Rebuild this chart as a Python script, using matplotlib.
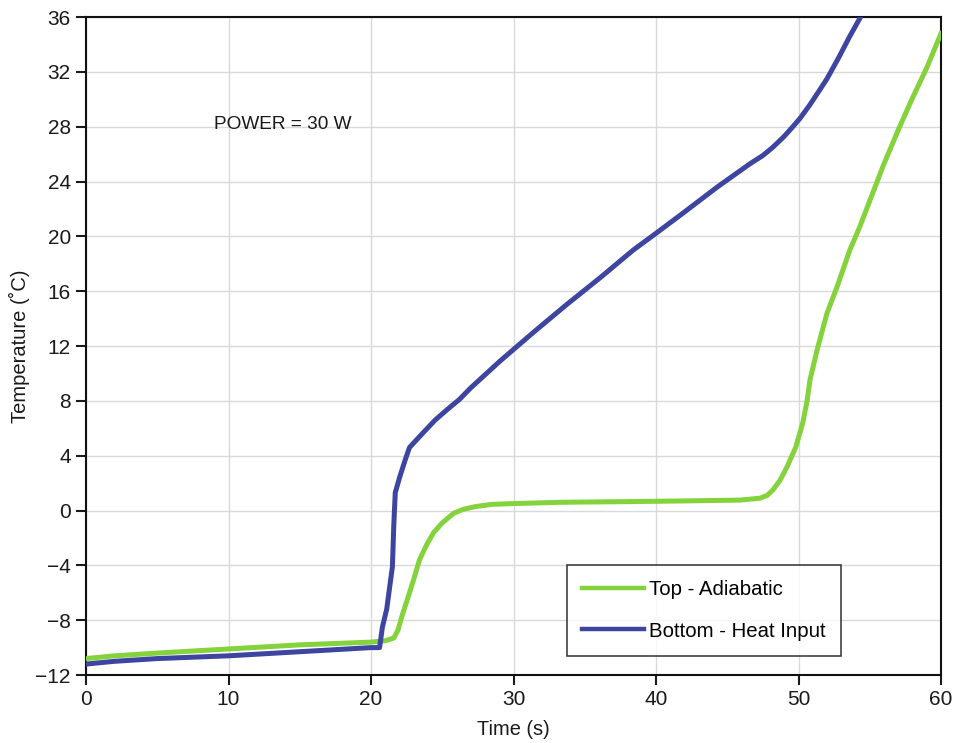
import matplotlib.pyplot as plt
import numpy as np

plt.rcParams['font.family'] = ['Liberation Sans', 'DejaVu Sans']

# Top - Adiabatic (green)
top_t = [0, 2, 5, 10, 15, 20, 21.0, 21.6, 21.9, 22.2, 22.7, 23.0, 23.4, 23.9,
         24.4, 25.0, 25.8, 26.5, 27.4, 28.5, 29.8, 33.3, 38, 42, 45.9, 47.3,
         47.8, 48.2, 48.7, 49.2, 49.8, 50.3, 50.6, 50.8, 51.3, 52.0, 52.7,
         53.6, 54.3, 55.0, 56.0, 57.1, 58.0, 59.0, 60.0]
top_T = [-10.8, -10.6, -10.4, -10.1, -9.8, -9.6, -9.5, -9.3, -8.7, -7.6, -6.0,
         -5.0, -3.6, -2.5, -1.6, -0.9, -0.2, 0.1, 0.3, 0.45, 0.5, 0.6, 0.65,
         0.7, 0.76, 0.9, 1.1, 1.5, 2.2, 3.2, 4.6, 6.4, 8.0, 9.5, 11.7, 14.4,
         16.3, 19.0, 20.7, 22.6, 25.3, 28.0, 30.1, 32.3, 34.8]

# Bottom - Heat Input (blue)
bot_t = [0, 2, 5, 10, 15, 20, 20.6, 20.8, 21.1, 21.5, 21.6, 21.7, 22.0, 22.4,
         22.7, 23.5, 24.5, 25.5, 26.2, 27.0, 28.0, 29.05, 30.0, 31.4, 33.7,
         36.1, 38.4, 40.1, 41.9, 44.3, 46.6, 47.5, 48.2, 49.0, 49.6, 50.1,
         50.8, 51.5, 52.0, 52.8, 53.6, 54.3]
bot_T = [-11.2, -11.0, -10.8, -10.6, -10.3, -10.0, -10.0, -8.5, -7.2, -4.1,
         -1.0, 1.3, 2.4, 3.7, 4.6, 5.5, 6.6, 7.5, 8.1, 8.95, 9.9, 10.9, 11.75,
         13.0, 15.0, 17.0, 19.0, 20.3, 21.7, 23.6, 25.3, 25.9, 26.5, 27.3,
         28.0, 28.6, 29.6, 30.7, 31.5, 33.0, 34.6, 35.9]

green = '#84d23c'
blue = '#3d45a0'

fig = plt.figure(figsize=(9.57, 7.43), dpi=100)
ax = fig.add_axes([0.0899, 0.0915, 0.8934, 0.8856])

ax.plot(top_t, top_T, color=green, lw=3.6, label='Top - Adiabatic', zorder=3)
ax.plot(bot_t, bot_T, color=blue, lw=3.6, label='Bottom - Heat Input', zorder=4)

ax.set_xlim(0, 60)
ax.set_ylim(-12, 36)
ax.set_xticks(np.arange(0, 61, 10))
ax.set_yticks(np.arange(-12, 37, 4))
ax.set_yticklabels([str(v).replace('-', '\u2212') for v in range(-12, 37, 4)])
ax.grid(True, color='#d9d9d9', lw=1)
ax.set_axisbelow(True)

for s in ax.spines.values():
    s.set_linewidth(1.5)
    s.set_color('#111111')

ax.tick_params(direction='out', length=7, width=1.5, labelsize=15,
               colors='#1a1a1a', top=False, right=False, pad=4)

ax.set_xlabel('Time (s)', fontsize=14.4, color='#1a1a1a', labelpad=8)
ax.set_ylabel('Temperature (\u02daC)', fontsize=14.5, color='#1a1a1a', labelpad=4)

ax.text(0.15, 0.836, 'POWER = 30 W', transform=ax.transAxes, fontsize=13.7,
        color='#1a1a1a', va='center', ha='left')

leg = ax.legend(loc='lower left', bbox_to_anchor=(0.5626, 0.029), fontsize=14.7,
                frameon=True, fancybox=False, edgecolor='#111111',
                handlelength=3.0, labelspacing=1.1, borderpad=0.75,
                handletextpad=0.25, borderaxespad=0)
leg.get_frame().set_linewidth(1.2)
for line in leg.get_lines():
    line.set_linewidth(3.2)

fig.savefig('out.png', dpi=100)
